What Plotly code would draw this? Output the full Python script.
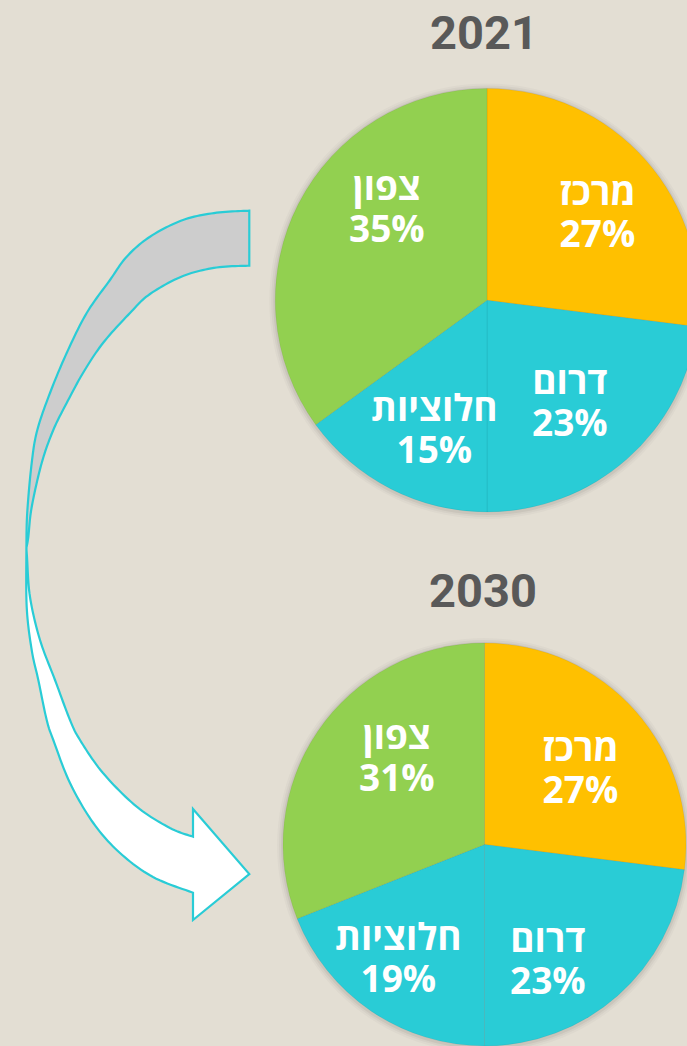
import plotly.graph_objects as go

# ---------------- data ----------------
years = ["2021", "2030"]
regions = ["מרכז", "דרום", "חלוציות", "צפון"]
values_2021 = [27, 23, 15, 35]
values_2030 = [27, 23, 19, 31]
slice_colors = ["#FFC000", "#29CCD6", "#29CCD6", "#92D050"]

# ---------------- layout helpers (pixel space) ----------------
W, H = 700, 1046
BG = "#E3DED3"
CYAN = "#29CCD6"


def fx(x):
    return x / W


def fy(y):
    return 1 - y / H


# pie geometry in pixels: (left, top, right, bottom)
pie_boxes = [(275, 88.5, 699, 512), (283, 643, 686, 1046)]
title_pos = [(484, 33), (482.5, 590)]
# centre of each two-line label block (pixels)
label_pos = [
    [(597.5, 212), (570, 401), (434.5, 428), (387, 206)],
    [(580, 767), (548, 958), (399, 956), (397, 755)],
]
GLYPH_PX = 37

fig = go.Figure()

all_values = [values_2021, values_2030]
for i, vals in enumerate(all_values):
    l, t, r, b = pie_boxes[i]
    fig.add_trace(go.Pie(
        labels=regions,
        values=vals,
        sort=False,
        direction="clockwise",
        rotation=0,
        marker=dict(colors=slice_colors, line=dict(color="rgba(0,0,0,0.07)", width=0.8)),
        textinfo="none",
        hoverinfo="skip",
        showlegend=False,
        domain=dict(x=[fx(l), fx(r)], y=[fy(b), fy(t)]),
    ))

annotations = []
for i, yr in enumerate(years):
    x, y = title_pos[i]
    annotations.append(dict(
        text=yr, x=fx(x), y=fy(y), xref="paper", yref="paper",
        xanchor="center", yanchor="middle", showarrow=False,
        font=dict(family="Roboto, Open Sans, sans-serif", size=47, color="#595959", weight="bold"),
    ))
    for j, reg in enumerate(regions):
        lx, ly = label_pos[i][j]
        txt = (f"<span style='font-size:{GLYPH_PX}px'>{reg}</span><br>"
               f"<span style='font-size:{GLYPH_PX}px'>{all_values[i][j]}%</span>")
        annotations.append(dict(
            text=txt, x=fx(lx), y=fy(ly),
            xref="paper", yref="paper", xanchor="center", yanchor="middle",
            showarrow=False, align="center",
            font=dict(family="Open Sans, DejaVu Sans, sans-serif", size=32.3,
                      color="white", weight="bold"),
        ))


# ---------------- curved arrow (decoration) ----------------
def catmull(points, steps=12):
    n = len(points)
    out = [points[0]]
    for k in range(n - 1):
        p0 = points[k - 1] if k > 0 else points[k]
        p1 = points[k]
        p2 = points[k + 1]
        p3 = points[k + 2] if k + 2 < n else points[k + 1]
        for s in range(1, steps + 1):
            t = s / steps
            t2, t3 = t * t, t * t * t
            pt = []
            for d in range(2):
                pt.append(0.5 * ((2 * p1[d]) + (-p0[d] + p2[d]) * t +
                                 (2 * p0[d] - 5 * p1[d] + 4 * p2[d] - p3[d]) * t2 +
                                 (-p0[d] + 3 * p1[d] - 3 * p2[d] + p3[d]) * t3))
            out.append(tuple(pt))
    return out


def P(p):
    return f"{fx(p[0]):.5f},{fy(p[1]):.5f}"


def poly(pts):
    return " ".join("L " + P(p) for p in pts)


outer_top = [(249.3, 210.7), (216.7, 212.7), (183, 220), (150, 236.7), (126.7, 256.7),
             (110, 280), (86.7, 313), (66.7, 353), (50, 393), (37.3, 430), (31.7, 463),
             (27.2, 513), (26.4, 548)]
inner_top = [(249.3, 265.7), (216.7, 267.5), (183, 276), (150, 294), (130, 313), (103, 343),
             (83, 373), (66.7, 403), (53.3, 430), (41.7, 463), (31.7, 507), (28.3, 537),
             (26.4, 548)]
outer_bot = [(26.4, 548), (26.7, 607), (31.7, 650), (38.3, 680), (46.7, 720), (53.3, 740),
             (70, 783), (93.3, 823), (120, 853), (153, 877), (193, 892.7)]
inner_bot = [(193, 836.7), (170, 828), (136.7, 806.7), (103, 773), (80, 740), (70, 720),
             (55, 680), (40, 640), (30, 597), (27, 557), (26.4, 548)]

ot = catmull(outer_top)
it = catmull(inner_top)[::-1]
gray_path = "M " + P(ot[0]) + " " + poly(ot[1:]) + " " + poly(it[1:]) + " Z"

ob = catmull(outer_bot)
ib = catmull(inner_bot)
white_path = ("M " + P(ob[0]) + " " + poly(ob[1:]) + " " +
              poly([(193, 920), (249.3, 874), (193, 809)]) + " " + poly(ib) + " Z")

shapes = [
    dict(type="path", path=gray_path, xref="paper", yref="paper",
         fillcolor="#CDCDCD", line=dict(color=CYAN, width=2.2), layer="above"),
    dict(type="path", path=white_path, xref="paper", yref="paper",
         fillcolor="#FFFFFF", line=dict(color=CYAN, width=2.2), layer="above"),
]

# subtle pie shadow
for i in range(2):
    l, t, r, b = pie_boxes[i]
    rad = min(r - l, b - t) / 2
    cx, cy = (l + r) / 2, (t + b) / 2
    for d, a in [(6, 0.025), (4, 0.035), (2, 0.05)]:
        shapes.append(dict(type="circle", xref="paper", yref="paper",
                           x0=fx(cx - rad - d), x1=fx(cx + rad + d),
                           y0=fy(cy + rad + d + 1), y1=fy(cy - rad - d + 1),
                           fillcolor=f"rgba(0,0,0,{a})", line=dict(width=0), layer="below"))

fig.update_layout(
    width=W, height=H,
    margin=dict(l=0, r=0, t=0, b=0),
    paper_bgcolor=BG, plot_bgcolor=BG,
    annotations=annotations,
    shapes=shapes,
    showlegend=False,
)

fig.write_html(
    "out.html",
    config={"displayModeBar": False},
    post_script="document.body.style.margin='0';document.body.style.overflow='hidden';document.documentElement.style.overflow='hidden';",
)
